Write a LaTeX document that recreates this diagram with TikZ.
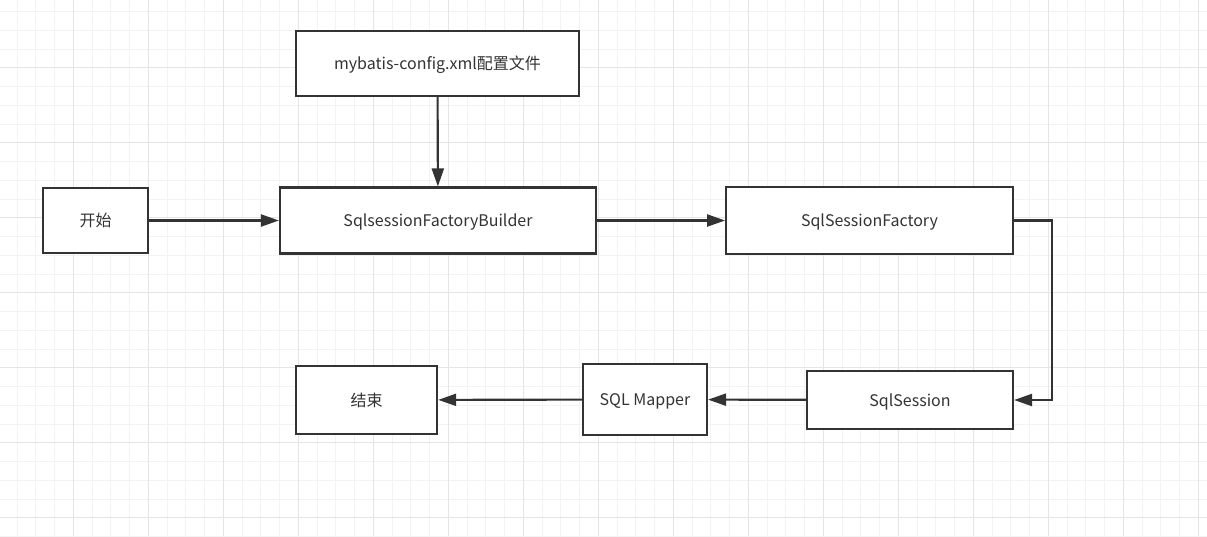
\documentclass[tikz,border=0pt]{standalone}
\usepackage{fontspec}
\setmainfont{Noto Sans CJK SC}
\usetikzlibrary{arrows.meta, positioning}

\definecolor{ink}{HTML}{333333}
\definecolor{minorline}{HTML}{F3F3F3}
\definecolor{majorline}{HTML}{E5E5E5}

\begin{document}
\begin{tikzpicture}[
        x=0.75pt, y=-0.75pt,
        >={Triangle[length=13.5pt, width=9pt]},
        stepbox/.style={rectangle, draw=ink, line width=1.6pt, fill=white, inner sep=0pt,
            text=ink, font=\fontsize{12pt}{14pt}\selectfont, align=center,
            text height=9.5pt, text depth=0.5pt},
        flow/.style={->, draw=ink, line width=1.6pt},
        minorgrid/.style={draw=minorline, line width=0.75pt},
        majorgrid/.style={draw=majorline, line width=0.75pt}
    ]

    % background grid
    \useasboundingbox (0,0) rectangle (1207,536);
    \fill[white] (0,0) rectangle (1207,536);
    \foreach \i in {0,...,64}
        \draw[minorgrid] ({17.05+18.75*\i},0) -- ++(0,536);
    \foreach \i in {0,...,28}
        \draw[minorgrid] (0,{11.7+18.75*\i}) -- ++(1207,0);
    \foreach \i in {0,...,15}
        \draw[majorgrid] ({73.3+75*\i},0) -- ++(0,536);
    \foreach \i in {0,...,6}
        \draw[majorgrid] (0,{67.7+75*\i}) -- ++(1207,0);

    \node (config) [stepbox, minimum width=212pt, minimum height=49pt] at (437.5,63.5) {mybatis-config.xml配置文件};
    \node (start) [stepbox, minimum width=79pt, minimum height=49pt] at (95.5,220.5) {开始};
    \node (builder) [stepbox, minimum width=237pt, minimum height=49.5pt] at (438,220.5) {SqlsessionFactoryBuilder};
    \node (factory) [stepbox, minimum width=215pt, minimum height=50pt] at (869.5,220.5) {SqlSessionFactory};
    \node (session) [stepbox, minimum width=154.5pt, minimum height=43.5pt] at (910,400) {SqlSession};
    \node (mapper) [stepbox, minimum width=93pt, minimum height=53pt] at (645,399.5) {SQL Mapper};
    \node (finish) [stepbox, minimum width=106pt, minimum height=51pt] at (366.5,400) {结束};

    \draw [flow] (config) -- (builder);
    \draw [flow] (start) -- (builder);
    \draw [flow] (builder) -- (factory);
    \draw [flow] (factory.east) -- ++(38,0) |- (session.east);
    \draw [flow] (session) -- (mapper);
    \draw [flow] (mapper) -- (finish);

\end{tikzpicture}
\end{document}
